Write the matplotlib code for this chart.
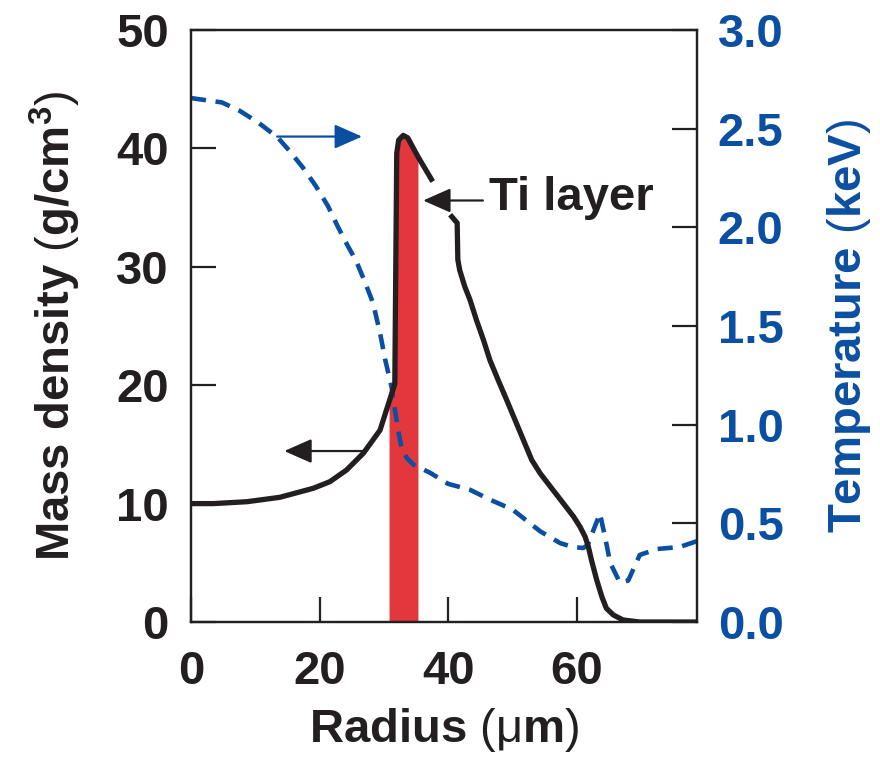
import numpy as np
import matplotlib
matplotlib.use("Agg")
import matplotlib.pyplot as plt

# ---- data -------------------------------------------------------------
# mass density profile (g/cm^3) vs radius (um); NaN marks the break for the label arrow
radius_rho = [0, 3.5, 8.7, 13.8, 19.0, 21.6, 24.2, 26.8, 29.4, 30.9, 31.7,
              31.85, 32.0, 32.3, 33.0, 33.7, 35.3, 37.6, 39.0, 40.3, 41.4, 41.5,
              41.8, 42.6, 43.4, 44.4, 45.5, 46.5, 47.8, 49.1, 50.4, 51.7, 53.0,
              54.3, 56.1, 57.9, 59.5, 60.5, 61.3, 61.8, 62.3, 63.1, 63.9, 64.6,
              65.7, 67.2, 69.8, 79.0]
density = [10.0, 10.0, 10.16, 10.53, 11.29, 11.85, 12.84, 14.25, 16.2, 18.75, 20.1,
           30.0, 39.6, 40.7, 41.1, 40.9, 39.3, 37.2, np.nan, 34.4, 33.7, 30.6,
           29.7, 28.3, 27.2, 25.5, 23.8, 22.1, 20.4, 18.75, 17.06, 15.37, 13.68,
           12.56, 11.29, 10.03, 8.9, 8.05, 7.2, 6.36, 5.2, 3.55, 2.14, 1.16,
           0.59, 0.17, 0.0, 0.0]

# electron temperature (keV) vs radius (um)
radius_T = [0, 4.8, 7.6, 10.5, 13.5, 15.3, 17.4, 19.4, 21.3, 22.8, 24.4, 25.7, 27.0,
            28.3, 29.4, 30.2, 31.2, 31.5, 32.2, 32.8, 33.6, 34.6, 37.2, 40.0, 43.4,
            46.5, 50.0, 54.3, 57.4, 59.4, 61.0, 61.7, 63.6, 64.4, 65.2, 66.7, 68.0,
            69.8, 72.5, 76.0, 78.7]
temperature = [2.655, 2.633, 2.59, 2.53, 2.455, 2.388, 2.303, 2.21, 2.108, 2.006,
               1.905, 1.829, 1.727, 1.618, 1.465, 1.33, 1.19, 1.12, 0.975, 0.873,
               0.83, 0.797, 0.756, 0.70, 0.67, 0.62, 0.57, 0.46, 0.40, 0.38, 0.375,
               0.39, 0.55, 0.43, 0.30, 0.20, 0.21, 0.34, 0.37, 0.38, 0.41]

# Ti layer extent (um)
ti_layer = (30.8, 35.3)

x_ticks = [0, 20, 40, 60]
rho_ticks = [0, 10, 20, 30, 40, 50]
T_ticks = [0.0, 0.5, 1.0, 1.5, 2.0, 2.5, 3.0]

# ---- style ------------------------------------------------------------
BLACK = "#231f20"
BLUE = "#0b4fa2"
RED = "#e3373e"
FS = 34

plt.rcParams["font.family"] = ["Liberation Sans", "DejaVu Sans"]
plt.rcParams["mathtext.fontset"] = "custom"
plt.rcParams["mathtext.rm"] = "Liberation Sans"
plt.rcParams["mathtext.it"] = "Liberation Sans"
plt.rcParams["mathtext.bf"] = "Liberation Sans:bold"

fig = plt.figure(figsize=(8.8, 7.64), dpi=100)
ax = fig.add_axes([191 / 880, 1 - 622 / 764, (697 - 191) / 880, (622 - 30) / 764])
ax2 = ax.twinx()

# density axes drawn above the temperature axes
ax.set_zorder(ax2.get_zorder() + 1)
ax.patch.set_visible(False)

ax.set_xlim(0, 78.7)
ax.set_ylim(0, 50)
ax2.set_ylim(0, 3.0)

# Ti layer band, filled up to the density curve
r_valid = np.array([r for r, d in zip(radius_rho, density) if not np.isnan(d)])
d_valid = np.array([d for d in density if not np.isnan(d)])
xf = np.linspace(ti_layer[0], ti_layer[1], 300)
ax2.fill_between(xf, 0, np.interp(xf, r_valid, d_valid), color=RED, lw=0,
                 transform=ax.transData, zorder=1)

# temperature profile
ax2.plot(radius_T, temperature, color=BLUE, lw=3.3, linestyle=(0, (3.3, 2.1)),
         solid_joinstyle="round", dash_joinstyle="round", zorder=2)

# density profile
ax.plot(radius_rho, density, color=BLACK, lw=3.8, solid_joinstyle="round",
        solid_capstyle="butt", zorder=3)

# arrows pointing to the matching axis
head = "-|>,head_length=17,head_width=7.5"
ax2.annotate("", xy=(26.6, 2.46), xytext=(13.4, 2.46),
             arrowprops=dict(arrowstyle=head, mutation_scale=1, lw=1.6,
                             color=BLUE, shrinkA=0, shrinkB=0))
ax.annotate("", xy=(14.5, 14.44), xytext=(27.1, 14.44),
            arrowprops=dict(arrowstyle=head, mutation_scale=1, lw=1.6,
                            color=BLACK, shrinkA=0, shrinkB=0))
ax.annotate("", xy=(36.1, 35.6), xytext=(45.4, 35.6),
            arrowprops=dict(arrowstyle=head, mutation_scale=1, lw=1.6,
                            color=BLACK, shrinkA=0, shrinkB=0))
ax.text(46.3, 34.8, "Ti layer", fontsize=FS, fontweight="bold", color=BLACK,
        ha="left", va="baseline")

# axes, ticks, labels
for a in (ax, ax2):
    for s in a.spines.values():
        s.set_linewidth(1.6)
        s.set_color(BLACK)

ax.set_xticks(x_ticks)
ax.set_yticks(rho_ticks)
ax2.set_yticks(T_ticks)
ax2.set_yticklabels([f"{t:.1f}" for t in T_ticks])

ax.tick_params(axis="both", direction="in", length=18, width=1.6, color=BLACK,
               labelsize=FS, labelcolor=BLACK)
ax.tick_params(axis="y", pad=16)
ax.tick_params(axis="x", pad=20)
ax2.tick_params(axis="y", direction="in", length=18, width=1.6, color=BLACK,
                labelsize=FS, labelcolor=BLUE, pad=15)
for lbl in ax.get_xticklabels() + ax.get_yticklabels() + ax2.get_yticklabels():
    lbl.set_fontweight("bold")

ax.set_xlabel(r"Radius $\mathrm{(\mu}$m$\mathrm{)}$", fontsize=FS,
              fontweight="bold", color=BLACK, labelpad=9)
ax.set_ylabel(r"Mass density $\mathrm{(}$g/cm$^{\mathbf{3}}\mathrm{)}$",
              fontsize=FS, fontweight="bold", color=BLACK, labelpad=24)
ax2.set_ylabel(r"Temperature $\mathrm{(}$keV$\mathrm{)}$", fontsize=FS,
               fontweight="bold", color=BLUE, labelpad=30)

fig.savefig("out.png", dpi=100)
